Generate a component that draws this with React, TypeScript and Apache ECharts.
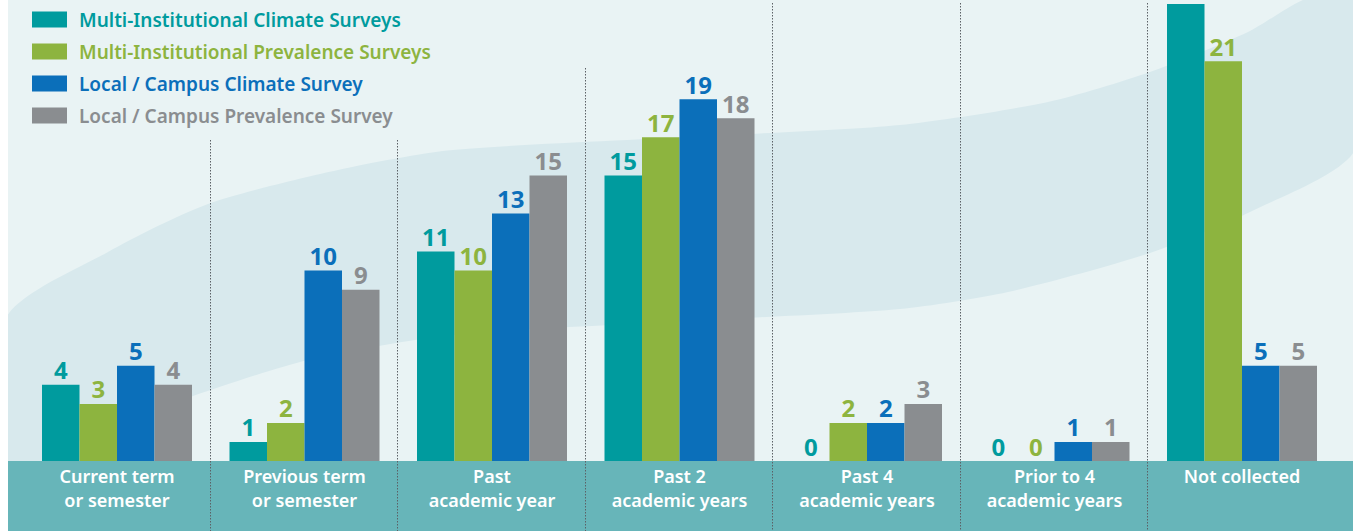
import React, { useEffect, useRef } from "react";
import * as echarts from "echarts";

const categories = [
  "Current term\nor semester",
  "Previous term\nor semester",
  "Past\nacademic year",
  "Past 2\nacademic years",
  "Past 4\nacademic years",
  "Prior to 4\nacademic years",
  "Not collected",
];
const seriesNames = [
  "Multi-Institutional Climate Surveys",
  "Multi-Institutional Prevalence Surveys",
  "Local / Campus Climate Survey",
  "Local / Campus Prevalence Survey",
];
const multiClimate = [4, 1, 11, 15, 0, 0, 24];
const multiPrevalence = [3, 2, 10, 17, 2, 0, 21];
const localClimate = [5, 10, 13, 19, 2, 1, 5];
const localPrevalence = [4, 9, 15, 18, 3, 1, 5];
const colors = ["#009b9e", "#8db43f", "#0b6fba", "#8a8d90"];

const FONT = "Noto Sans";

export default function App() {
  const ref = useRef<HTMLDivElement>(null);
  useEffect(() => {
    const chart = echarts.init(ref.current!, null, { renderer: "svg" });
    const W = 1345;
    const H = 531;
    const gridLeft = 15.25;
    const gridRight = 17.25;
    const gridBottom = 70;
    const allData = [multiClimate, multiPrevalence, localClimate, localPrevalence];

    const bandPts = [
      [-2, 318], [100, 252], [200, 204], [330, 170], [445, 150], [700, 136], [892, 125],
      [1040, 102], [1142, 72], [1240, 32], [1300, -2], [1347, -2], [1347, 150],
      [1242, 212], [1142, 253], [1000, 292], [892, 309], [700, 320], [445, 335],
      [300, 360], [185, 396], [90, 432], [-2, 470],
    ];

    const sepTops = [140, 140, 68, 3, 3, 3];
    const catW = (W - gridLeft - gridRight) / categories.length;
    const seps = sepTops.map((t, i) => ({
      type: "line",
      z: 1,
      silent: true,
      shape: { x1: Math.round(gridLeft + catW * (i + 1)) - 0.5, y1: t, x2: Math.round(gridLeft + catW * (i + 1)) - 0.5, y2: H },
      style: { stroke: "#5c6166", lineWidth: 1, lineDash: [1.5, 1.5] },
    }));

    chart.setOption({
      animation: false,
      backgroundColor: "#e9f3f4",
      textStyle: { fontFamily: FONT },
      graphic: [
        {
          type: "polygon",
          z: -10,
          silent: true,
          shape: { points: bandPts, smooth: 0.25 },
          style: { fill: "#d8e9ed" },
        },
        {
          type: "rect",
          z: -5,
          silent: true,
          shape: { x: 0, y: H - gridBottom, width: W, height: gridBottom },
          style: { fill: "#67b5b9" },
        },
        ...seps,
      ],
      legend: {
        orient: "vertical",
        left: 19,
        top: 5,
        icon: "rect",
        itemWidth: 35,
        itemHeight: 16,
        itemGap: 13,
        selectedMode: false,
        textStyle: { fontSize: 19, fontWeight: 600, fontFamily: FONT, padding: [0, 0, 0, 7] },
        data: seriesNames.map((n, i) => ({ name: n, textStyle: { color: colors[i] } })),
      },
      grid: { left: gridLeft, right: gridRight, top: 4, bottom: gridBottom, containLabel: false },
      xAxis: {
        type: "category",
        data: categories,
        z: 10,
        axisLine: { show: false },
        axisTick: { show: false },
        axisLabel: {
          color: "#ffffff",
          fontSize: 18,
          fontWeight: 600,
          fontFamily: FONT,
          lineHeight: 24,
          margin: 3,
          verticalAlign: "top",
          interval: 0,
        },
      },
      yAxis: {
        type: "value",
        min: 0,
        max: 24,
        show: false,
        splitLine: { show: false },
      },
      series: seriesNames.map((n, i) => ({
        type: "bar",
        name: n,
        data: allData[i],
        barWidth: 37.5,
        barGap: "0%",
        itemStyle: { color: colors[i] },
        label: {
          show: true,
          position: "top",
          distance: 3,
          color: colors[i],
          fontSize: 24,
          fontWeight: "bold",
          fontFamily: FONT,
        },
      })),
    });
    return () => chart.dispose();
  }, []);
  return (
    <div
      ref={ref}
      style={{ position: "absolute", left: 8, top: 0, width: 1345, height: 531 }}
    />
  );
}
